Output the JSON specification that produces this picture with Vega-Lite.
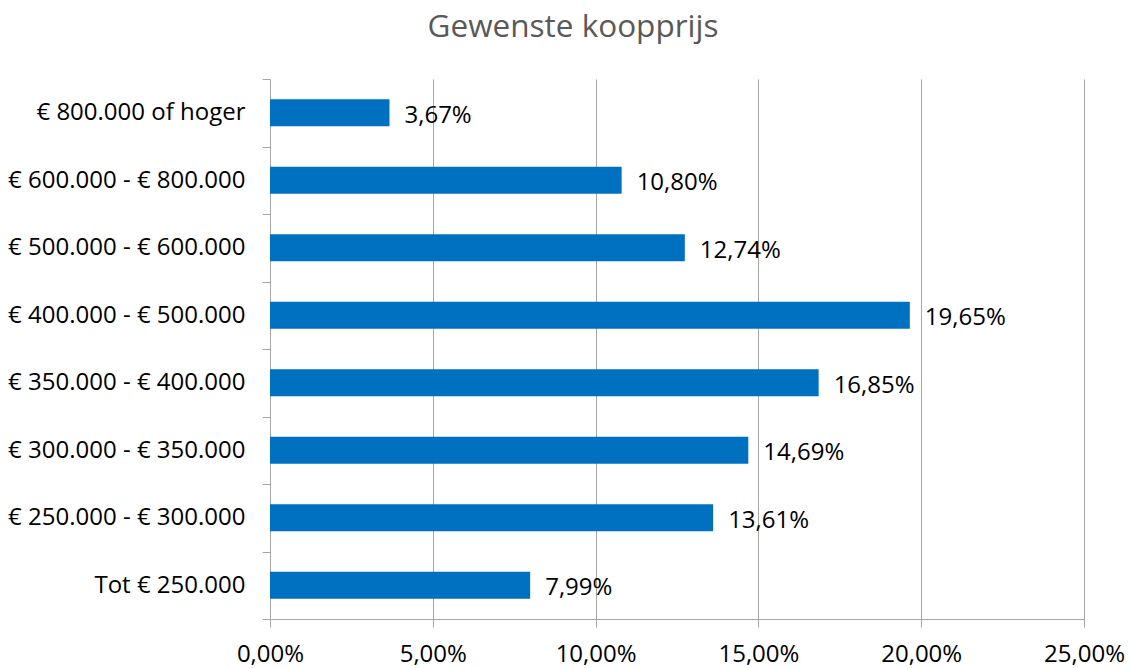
{
  "$schema": "https://vega.github.io/schema/vega-lite/v6.json",
  "width": 814,
  "height": 540,
  "autosize": {"type": "none"},
  "padding": {"left": 270, "top": 79, "right": 46, "bottom": 49},
  "background": "white",
  "title": {
    "text": "Gewenste koopprijs",
    "font": "Open Sans",
    "fontSize": 31.5,
    "fontWeight": "normal",
    "color": "#595959",
    "anchor": "middle",
    "dx": -104,
    "offset": 24
  },
  "config": {
    "locale": {
      "number": {"decimal": ",", "thousands": ".", "grouping": [3], "currency": ["€ ", ""]}
    },
    "view": {"stroke": null},
    "font": "Open Sans"
  },
  "data": {
    "values": [
      {"categorie": "€ 800.000 of hoger", "aandeel": 0.0367},
      {"categorie": "€ 600.000 - € 800.000", "aandeel": 0.108},
      {"categorie": "€ 500.000 - € 600.000", "aandeel": 0.1274},
      {"categorie": "€ 400.000 - € 500.000", "aandeel": 0.1965},
      {"categorie": "€ 350.000 - € 400.000", "aandeel": 0.1685},
      {"categorie": "€ 300.000 - € 350.000", "aandeel": 0.1469},
      {"categorie": "€ 250.000 - € 300.000", "aandeel": 0.1361},
      {"categorie": "Tot € 250.000", "aandeel": 0.0799}
    ]
  },
  "encoding": {
    "y": {
      "field": "categorie",
      "type": "nominal",
      "sort": null,
      "scale": {"paddingInner": 0, "paddingOuter": 0},
      "axis": {
        "title": null,
        "grid": false,
        "tickBand": "extent",
        "tickSize": 8,
        "tickColor": "#A6A6A6",
        "domainColor": "#A6A6A6",
        "labelFont": "Open Sans",
        "labelFontSize": 24,
        "labelColor": "#000000",
        "labelPadding": 17,
        "labelLimit": 300
      }
    },
    "x": {
      "field": "aandeel",
      "type": "quantitative",
      "scale": {"domain": [0, 0.25], "nice": false},
      "axis": {
        "title": null,
        "format": ".2%",
        "values": [0, 0.05, 0.1, 0.15, 0.2, 0.25],
        "grid": true,
        "gridColor": "#A6A6A6",
        "tickSize": 8,
        "tickColor": "#A6A6A6",
        "domainColor": "#A6A6A6",
        "labelFont": "Open Sans",
        "labelFontSize": 24,
        "labelColor": "#000000",
        "labelPadding": 15,
        "labelFlush": false
      }
    }
  },
  "layer": [
    {"mark": {"type": "bar", "color": "#0070C0", "height": {"band": 0.4}}},
    {
      "mark": {"type": "text", "align": "left", "baseline": "middle", "dx": 15, "dy": 3, "font": "Open Sans", "fontSize": 24, "color": "#000000"},
      "encoding": {"text": {"field": "aandeel", "type": "quantitative", "format": ".2%"}}
    }
  ]
}
